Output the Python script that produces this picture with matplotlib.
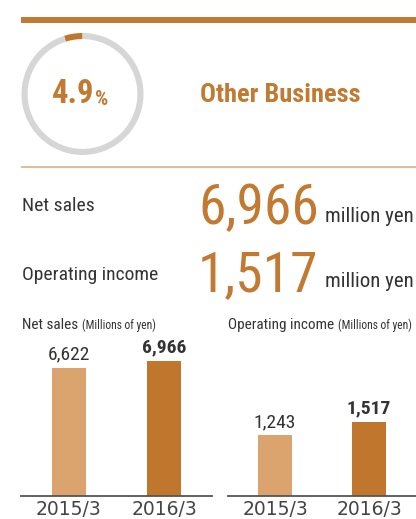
import matplotlib
matplotlib.use("Agg")
import matplotlib.pyplot as plt
from matplotlib import font_manager

# Segment summary values
share_pct = 4.9
segment_name = "Other Business"
net_sales = 6966
operating_income = 1517

years = ["2015/3", "2016/3"]
net_sales_hist = [6622, 6966]
op_income_hist = [1243, 1517]

ORANGE = "#C27A32"
LIGHT = "#DBA46F"
DARK = "#C0762C"
RING = "#D6D6D6"
TEXT = "#333333"

# pick a condensed face for the headings
available = {f.name for f in font_manager.fontManager.ttflist}
NARROW = next((n for n in ["Roboto Condensed", "Archivo Narrow", "PT Sans Narrow",
                           "Asap Condensed", "Sofia Sans Condensed"] if n in available),
              "DejaVu Sans")

W, H = 416, 519
fig = plt.figure(figsize=(W / 100, H / 100), dpi=100)

# pixel-space layer for rules and headline text
bg = fig.add_axes([0, 0, 1, 1])
bg.set_xlim(0, W)
bg.set_ylim(H, 0)
bg.axis("off")

bg.plot([21, W], [20, 20], color=ORANGE, lw=4.3, solid_capstyle="butt")
bg.plot([21, W], [167, 167], color="#DDB083", lw=1.2, solid_capstyle="butt")


def px_axes(x0, y0, w, h):
    return fig.add_axes([x0 / W, 1 - (y0 + h) / H, w / W, h / H])


# share donut
dax = px_axes(82.5 - 61, 94 - 61, 122, 122)
dax.pie([share_pct, 100 - share_pct], colors=[DARK, RING], startangle=90,
        counterclock=True, radius=1, wedgeprops=dict(width=0.1, linewidth=0))
dax.set_xlim(-1, 1)
dax.set_ylim(-1, 1)
dax.set_aspect("equal")
dax.axis("off")

pct = bg.text(52, 103, f"{share_pct}", family=NARROW, weight="bold", fontsize=23.5,
              color=ORANGE, ha="left", va="baseline")
bg.annotate("%", xycoords=pct, xy=(1, 0), xytext=(0.5, 1), textcoords="offset points",
            family=NARROW, weight="bold", fontsize=15, color=ORANGE,
            ha="left", va="bottom")
bg.text(200, 102, segment_name, family=NARROW, weight="bold", fontsize=19,
        color=ORANGE, ha="left", va="baseline")

# headline figures
bg.text(22, 211, "Net sales", family=NARROW, fontsize=14, color=TEXT,
        ha="left", va="baseline")
bg.text(198, 224, f"{net_sales:,}", family=NARROW, fontsize=40,
        color=ORANGE, ha="left", va="baseline")
bg.text(325, 222, "million yen", family=NARROW, fontsize=15, color=TEXT,
        ha="left", va="baseline")

bg.text(22, 280, "Operating income", family=NARROW, fontsize=14, color=TEXT,
        ha="left", va="baseline")
bg.text(198, 291, f"{operating_income:,}", family=NARROW, fontsize=40,
        color=ORANGE, ha="left", va="baseline")
bg.text(325, 287, "million yen", family=NARROW, fontsize=15, color=TEXT,
        ha="left", va="baseline")

# small chart titles
for x0, main in [(22, "Net sales"), (228, "Operating income")]:
    t = bg.text(x0, 329, main + " ", family=NARROW, fontsize=11, color=TEXT,
                ha="left", va="baseline")
    bg.annotate("(Millions of yen)", xycoords=t, xy=(1, 0), va="bottom",
                family=NARROW, fontsize=8.3, color=TEXT)


def bar_panel(x0, width, values, ymax):
    ax = px_axes(x0, 496 - 150, width, 150)
    ax.bar([0, 1], values, width=0.36, color=[LIGHT, DARK])
    ax.set_xlim(-0.5, 1.5)
    ax.set_ylim(0, ymax)
    for i, v in enumerate(values):
        ax.annotate(f"{v:,}", (i, v), xytext=(0, 3), textcoords="offset points",
                    ha="center", va="bottom", family=NARROW, fontsize=14,
                    weight="bold" if i == 1 else "normal", color=TEXT)
    for s in ["top", "left", "right"]:
        ax.spines[s].set_visible(False)
    ax.spines["bottom"].set_color("#555555")
    ax.spines["bottom"].set_linewidth(1.3)
    ax.set_yticks([])
    ax.set_xticks([0, 1], years)
    ax.tick_params(axis="x", length=0, pad=3, labelsize=13.5, labelcolor="#444444")
    return ax


bar_panel(21, 191, net_sales_hist, 7740)
bar_panel(228, 188, op_income_hist, 3075)

fig.savefig("out.png", dpi=100)
